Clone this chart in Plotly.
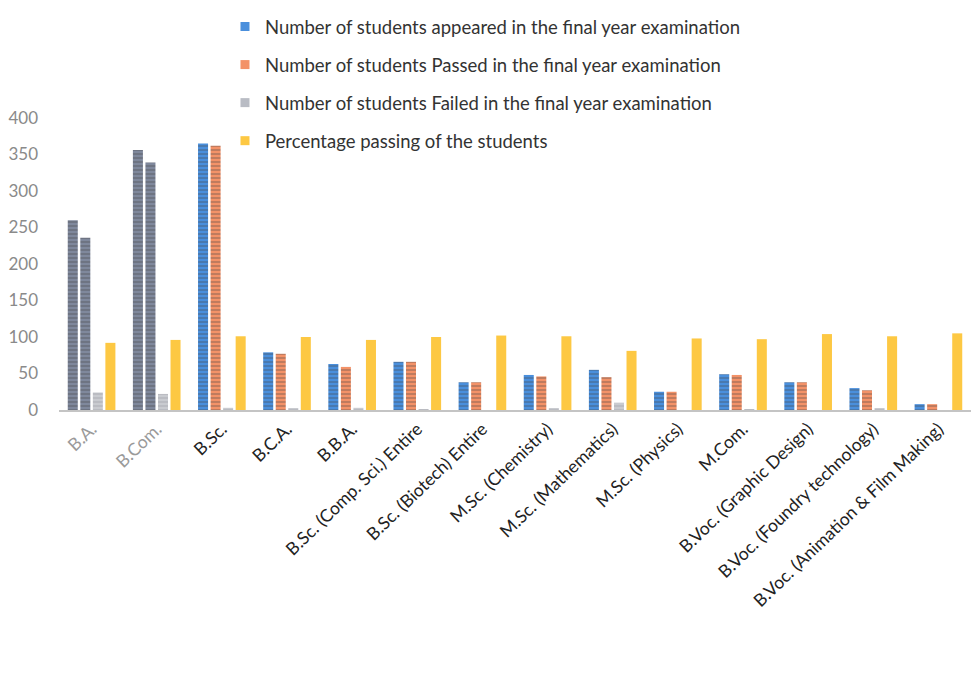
import plotly.graph_objects as go

categories = ["B.A.", "B.Com.", "B.Sc.", "B.C.A.", "B.B.A.",
              "B.Sc. (Comp. Sci.) Entire", "B.Sc. (Biotech) Entire",
              "M.Sc. (Chemistry)", "M.Sc. (Mathematics)", "M.Sc. (Physics)",
              "M.Com.", "B.Voc. (Graphic Design)", "B.Voc. (Foundry technology)",
              "B.Voc. (Animation & Film Making)"]
appeared = [260, 356, 365, 79, 63, 66, 38, 48, 55, 25, 49, 38, 30, 8]
passed = [236, 339, 362, 77, 59, 66, 38, 46, 45, 25, 48, 38, 27, 8]
failed = [24, 22, 3, 2, 3, 1, 0, 2, 10, 0, 1, 0, 2, 0]
percentage = [92, 96, 101, 100, 96, 100, 102, 101, 81, 98, 97, 104, 101, 105]

series_names = ["Number of students appeared in the final year examination",
                "Number of students Passed in the final year examination",
                "Number of students Failed in the final year examination",
                "Percentage passing of the students"]

y_ticks = [0, 50, 100, 150, 200, 250, 300, 350, 400]

# styling (scan shows first two groups greyed)
grey_groups = {"B.A.", "B.Com."}
blue = "#4a8fdc"
orange = "#f39268"
grey_bar = "#7f889c"
light_grey = "#c9cbd0"
yellow = "#fdc843"

def colors(base):
    return [grey_bar if c in grey_groups else base for c in categories]

stripe = dict(shape="-", fgcolor="rgba(255,255,255,0.55)", size=4, solidity=0.3)
grey_stripe = dict(shape="-", fgcolor="rgba(120,120,130,0.6)", size=4, solidity=0.3)

fig = go.Figure()
fig.add_bar(x=categories, y=appeared, name=series_names[0], showlegend=False,
            marker=dict(color=colors(blue), pattern=stripe, line_width=0))
fig.add_bar(x=categories, y=passed, name=series_names[1], showlegend=False,
            marker=dict(color=colors(orange), pattern=stripe, line_width=0))
fig.add_bar(x=categories, y=failed, name=series_names[2], showlegend=False,
            marker=dict(color=light_grey, pattern=grey_stripe, line_width=0))
fig.add_bar(x=categories, y=percentage, name=series_names[3], showlegend=False,
            marker=dict(color=yellow, line_width=0))

# legend entries (square swatches)
legend_colors = [blue, orange, "#b9bcc4", yellow]
for i, (nm, col) in enumerate(zip(series_names, legend_colors)):
    fig.add_scatter(x=[None], y=[None], mode="markers", name=nm,
                    marker=dict(symbol="square", size=9, color=col),
                    legendgroup=str(i), showlegend=True)

ticktext = [f'<span style="color:#9a9a9a">{c}</span>' if c in grey_groups else c for c in categories]

# plot area spans from the top of the figure; 0 sits at y=402 px, 400 at y=110 px
px_per_unit = 292 / 400
y_top = 402 / px_per_unit

fig.update_layout(
    width=979, height=695,
    margin=dict(l=51, r=16, t=0, b=293),
    paper_bgcolor="white", plot_bgcolor="white",
    barmode="group", bargap=0.23, bargroupgap=0.2,
    font=dict(family="Lato, Open Sans, sans-serif", color="#333333"),
    legend=dict(x=0.182, y=1.0, xanchor="left", yanchor="top",
                font=dict(size=18.5, color="#333333"),
                traceorder="grouped", tracegroupgap=11,
                itemwidth=30, bgcolor="rgba(0,0,0,0)"),
    xaxis=dict(tickmode="array", tickvals=categories, ticktext=ticktext,
               tickangle=-44, tickfont=dict(size=17.5, color="#222222"),
               showline=True, linecolor="#c4c4c4", linewidth=2,
               showgrid=False, ticks=""),
    yaxis=dict(range=[0, y_top], tickvals=y_ticks, showgrid=False,
               zeroline=False, showline=False,
               tickfont=dict(size=17, color="#8a8a8a"),
               ticklabelstandoff=20),
)

fig.write_html("out.html")
